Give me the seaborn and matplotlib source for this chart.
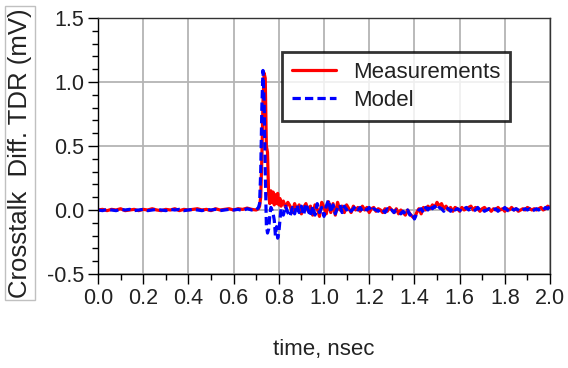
import numpy as np
import pandas as pd
import matplotlib
matplotlib.use("Agg")
import matplotlib.pyplot as plt
from matplotlib.ticker import MultipleLocator, FormatStrFormatter
import seaborn as sns

# ---- data ----
t_pre = np.round(np.arange(0.0, 0.70, 0.02), 3)
meas_pre = [0.0, 0.005, -0.005, 0.005, 0.0, 0.01, -0.005, 0.0, 0.005, -0.005,
            0.005, 0.0, 0.01, 0.0, -0.005, 0.005, 0.0, 0.01, -0.005, 0.005,
            0.0, 0.005, 0.01, 0.0, 0.005, -0.005, 0.01, 0.0, 0.005, 0.01,
            0.0, 0.01, 0.005, 0.015, 0.005]
model_pre = [0.0, -0.005, 0.005, 0.0, -0.005, 0.005, 0.0, 0.005, -0.005, 0.0,
             0.005, -0.005, 0.0, 0.005, 0.0, -0.005, 0.005, 0.0, 0.005, -0.005,
             0.0, 0.005, 0.0, -0.005, 0.005, 0.0, 0.005, -0.005, 0.0, 0.005,
             0.0, 0.005, -0.005, 0.01, 0.0]

t_peak = [0.70, 0.71, 0.715, 0.72, 0.725, 0.73, 0.735, 0.74, 0.745, 0.75,
          0.755, 0.76, 0.765, 0.77, 0.775, 0.78, 0.785, 0.79, 0.795, 0.80,
          0.805, 0.81, 0.82, 0.83, 0.84]
meas_peak = [0.0, 0.01, 0.03, 0.10, 0.40, 0.85, 1.07, 1.03, 0.50, 0.45,
             0.12, 0.05, 0.15, 0.06, 0.14, 0.04, 0.12, 0.05, 0.13, 0.04,
             0.09, 0.03, 0.07, 0.02, 0.06]
model_peak = [0.0, 0.02, 0.05, 0.30, 0.80, 1.09, 0.85, 0.30, -0.12, -0.18,
              -0.15, -0.05, 0.02, 0.0, -0.03, -0.08, -0.20, -0.13, -0.22, -0.18,
              -0.08, 0.01, -0.04, 0.03, -0.02]

t_post = np.round(np.arange(0.85, 2.0001, 0.01), 3)
meas_post = [0.03, -0.02, 0.05, 0.0, 0.04, -0.03, 0.02, 0.05, -0.01, 0.03,
             -0.04, 0.04, 0.01, -0.05, 0.06, 0.02, -0.03, 0.065, -0.02, 0.05,
             -0.04, 0.06, 0.0, 0.03, -0.02, 0.04, 0.01, -0.02, 0.03, 0.0,
             0.02, -0.01, 0.03, 0.0, 0.02, -0.02, 0.01, 0.02, -0.01, 0.01,
             0.0, -0.02, 0.01, -0.01, 0.02, 0.0, -0.02, 0.01, -0.03, 0.0,
             -0.02, -0.04, 0.0, -0.03, -0.05, -0.065, -0.02, 0.01, -0.03, 0.02,
             0.0, 0.03, 0.01, 0.04, 0.02, 0.06, 0.03, 0.05, 0.01, 0.03,
             0.0, 0.02, -0.01, 0.02, 0.01, -0.01, 0.02, 0.0, 0.01, 0.02,
             0.03, 0.0, 0.02, 0.01, -0.01, 0.01, 0.02, 0.0, 0.01, -0.01,
             0.01, 0.0, 0.02, 0.0, 0.01, -0.01, 0.01, 0.0, 0.02, 0.0,
             0.01, -0.01, 0.0, 0.01, 0.0, 0.02, 0.01, 0.0, 0.01, 0.0,
             0.01, 0.02, 0.0, 0.01, 0.03, 0.02]
model_post = [-0.05, 0.02, -0.03, 0.04, -0.02, 0.03, -0.04, 0.05, 0.0, -0.05,
              0.03, -0.04, 0.05, -0.02, 0.02, -0.05, 0.03, 0.08, -0.02, 0.04,
              -0.03, 0.02, 0.04, -0.02, 0.03, 0.0, 0.02, -0.01, 0.01, 0.03,
              0.0, 0.02, -0.01, 0.01, 0.0, 0.02, -0.01, 0.01, 0.0, -0.01,
              0.01, 0.0, -0.02, 0.01, -0.01, 0.0, -0.02, 0.0, -0.01, -0.03,
              -0.01, -0.03, 0.0, -0.04, -0.02, -0.07, -0.03, 0.0, 0.01, -0.02,
              0.02, 0.0, 0.04, 0.01, 0.03, 0.0, 0.02, 0.01, -0.01, 0.02,
              0.01, -0.01, 0.02, 0.0, 0.01, 0.0, -0.01, 0.01, 0.02, 0.0,
              0.01, -0.01, 0.0, 0.02, 0.0, 0.01, -0.01, 0.0, 0.01, 0.0,
              0.0, 0.01, -0.01, 0.01, 0.0, 0.02, 0.0, -0.01, 0.01, 0.0,
              0.01, 0.0, -0.01, 0.0, 0.01, 0.0, 0.01, -0.01, 0.0, 0.01,
              0.0, 0.01, 0.0, 0.02, 0.01, 0.03]

series_names = ["Measurements", "Model"]
x_ticks = [0.0, 0.2, 0.4, 0.6, 0.8, 1.0, 1.2, 1.4, 1.6, 1.8, 2.0]
y_ticks = [-0.5, 0.0, 0.5, 1.0, 1.5]

time = np.concatenate([t_pre, t_peak, t_post])
meas = np.concatenate([meas_pre, meas_peak, meas_post])
model = np.concatenate([model_pre, model_peak, model_post])
df_meas = pd.DataFrame({"time": time, "value": meas})
df_model = pd.DataFrame({"time": time, "value": model})

# ---- plot ----
sns.set_style("white")
plt.rcParams["font.family"] = ["Liberation Sans", "DejaVu Sans"]

fig = plt.figure(figsize=(5.68, 3.68), dpi=100)
ax = fig.add_axes([98 / 568, 1 - 274 / 368, 452 / 568, 256 / 368])

sns.lineplot(data=df_meas, x="time", y="value", ax=ax, color="#ff0000",
             linewidth=2.3, label=series_names[0], sort=False, estimator=None)
sns.lineplot(data=df_model, x="time", y="value", ax=ax, color="#0000ff",
             linewidth=2.3, linestyle=(0, (2.6, 1.3)), label=series_names[1],
             sort=False, estimator=None)

ax.set_xlim(0, 2.0)
ax.set_ylim(-0.5, 1.5)
ax.set_xticks(x_ticks)
ax.set_yticks(y_ticks)
ax.xaxis.set_major_formatter(FormatStrFormatter("%.1f"))
ax.yaxis.set_major_formatter(FormatStrFormatter("%.1f"))
ax.xaxis.set_minor_locator(MultipleLocator(0.1))
ax.yaxis.set_minor_locator(MultipleLocator(0.1))
ax.tick_params(axis="both", which="major", direction="out", length=7, width=1,
               labelsize=15.5, color="black", labelcolor="#222222", pad=3)
ax.tick_params(axis="both", which="minor", direction="out", length=4, width=1,
               color="black")
ax.tick_params(axis="x", bottom=True, which="both")
ax.tick_params(axis="y", left=True, which="both")

ax.grid(True, which="major", color="#b4b4b4", linewidth=1.3)
ax.set_axisbelow(True)
for s in ax.spines.values():
    s.set_color("#333333")
    s.set_linewidth(1.0)
ax.spines["left"].set_color("black")
ax.spines["bottom"].set_color("black")

ax.set_xlabel("")
ax.set_ylabel("")
fig.text(324 / 568, 1 - 349 / 368, "time, nsec", fontsize=16, color="#222222",
         ha="center", va="center")
fig.text(20 / 568, 1 - 153 / 368, "Crosstalk  Diff. TDR (mV)", rotation=90,
         fontsize=18.5, color="#222222", ha="center", va="center",
         bbox=dict(boxstyle="square,pad=0.1", facecolor="white",
                   edgecolor="#c0c0c0", linewidth=1))

leg = ax.legend(loc="upper left", bbox_to_anchor=((282 - 98) / 452, (274 - 52) / 256),
                borderaxespad=0, fontsize=16, frameon=True, fancybox=False,
                handlelength=2.0, handletextpad=0.75, labelspacing=0.32,
                borderpad=0.45)
leg.get_frame().set_edgecolor("black")
leg.get_frame().set_linewidth(2.0)
for txt in leg.get_texts():
    txt.set_color("#222222")

fig.savefig("out.png", dpi=100)
